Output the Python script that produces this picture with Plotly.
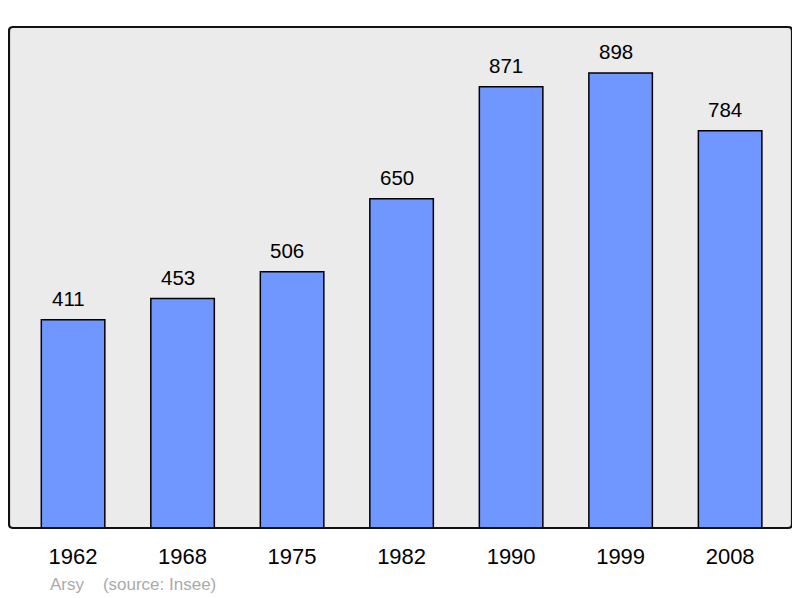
import plotly.graph_objects as go

years = ["1962", "1968", "1975", "1982", "1990", "1999", "2008"]
population = [411, 453, 506, 650, 871, 898, 784]

# page has an 8px body margin; size figure to fit the 800x598 window
W, H = 792, 590
ml, mr, mt, mb = 1, 8, 19, 70
pw, ph = W - ml - mr, H - mt - mb

fig = go.Figure()
fig.add_trace(go.Bar(
    x=list(range(len(years))), y=population,
    width=0.58,
    marker=dict(color="#7096ff", line=dict(color="#000000", width=1.5)),
    hoverinfo="skip",
))

for i, v in enumerate(population):
    fig.add_annotation(x=i, y=v, text=str(v), showarrow=False,
                       yanchor="bottom", yshift=8, xshift=-5,
                       font=dict(family="Liberation Sans, Arial", size=20.5, color="#000"))

fig.add_annotation(xref="paper", yref="paper", x=(40 - ml) / pw,
                   y=-56 / ph, xanchor="left", yanchor="middle",
                   text="Arsy\u00a0\u00a0\u00a0\u00a0(source: Insee)", showarrow=False,
                   font=dict(family="Liberation Sans, Arial", size=17, color="#aaaaaa"))

# rounded frame
r = 4
rx, ry = r / pw, r / ph
path = (f"M {rx},0 L {1-rx},0 Q 1,0 1,{ry} L 1,{1-ry} Q 1,1 {1-rx},1 "
        f"L {rx},1 Q 0,1 0,{1-ry} L 0,{ry} Q 0,0 {rx},0 Z")
fig.add_shape(type="path", xref="paper", yref="paper", path=path,
              line=dict(color="#111", width=2.2), layer="above")

fig.update_layout(
    width=W, height=H,
    margin=dict(l=ml, r=mr, t=mt, b=mb),
    paper_bgcolor="#ffffff", plot_bgcolor="#ebebeb",
    showlegend=False,
    xaxis=dict(range=[-0.585, 6.565], tickvals=list(range(len(years))), ticktext=years,
               showgrid=False, zeroline=False, ticks="", ticklabelstandoff=13,
               tickfont=dict(family="Liberation Sans, Arial", size=22, color="#000"),
               fixedrange=True),
    yaxis=dict(range=[0, 989], visible=False, showgrid=False, zeroline=False, fixedrange=True),
)

fig.write_html("out.html")
